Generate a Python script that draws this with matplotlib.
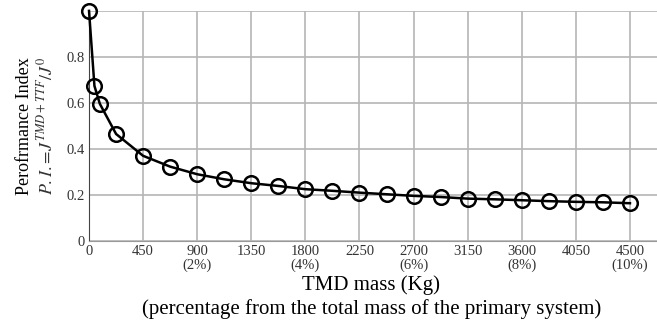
import matplotlib
matplotlib.use('Agg')
import matplotlib.pyplot as plt
import numpy as np

plt.rcParams['font.family'] = ['Liberation Serif', 'DejaVu Serif']
plt.rcParams['mathtext.fontset'] = 'stix'

# TMD mass (kg) and performance index
mass = [0, 45, 90, 225, 450, 675, 900, 1125, 1350, 1575, 1800, 2025, 2250,
        2475, 2700, 2925, 3150, 3375, 3600, 3825, 4050, 4275, 4500]
perf_index = [1.0, 0.674, 0.596, 0.465, 0.37, 0.323, 0.29, 0.268, 0.251, 0.239,
              0.225, 0.218, 0.21, 0.203, 0.196, 0.191, 0.184, 0.181, 0.177,
              0.173, 0.17, 0.168, 0.164]

xticks = [0, 450, 900, 1350, 1800, 2250, 2700, 3150, 3600, 4050, 4500]
xticklabels = ['0', '450', '900\n(2%)', '1350', '1800\n(4%)', '2250', '2700\n(6%)',
               '3150', '3600\n(8%)', '4050', '4500\n(10%)']
yticks = [0, 0.2, 0.4, 0.6, 0.8, 1.0]
yticklabels = ['0', '0.2', '0.4', '0.6', '0.8', '']

fig = plt.figure(figsize=(6.57, 3.2), dpi=100)
ax = fig.add_axes([0.1355, 0.247, 0.8645, 0.719])

ax.plot(mass, perf_index, '-o', color='black', lw=1.8, markersize=10.5,
        markerfacecolor='none', markeredgewidth=1.8, clip_on=False, zorder=3)

ax.set_xlim(0, 4725)
ax.set_ylim(0, 1.0)
ax.set_xticks(xticks)
ax.set_xticklabels(xticklabels, fontsize=10.5, color='#333333', linespacing=1.0)
ax.set_yticks(yticks)
ax.set_yticklabels(yticklabels, fontsize=10.5, color='#333333')
ax.tick_params(length=0, pad=3)
ax.grid(True, color='#b5b5b5', lw=1.2)
ax.set_axisbelow(True)
for s in ['top', 'right']:
    ax.spines[s].set_visible(False)
ax.spines['left'].set_color('#444444')
ax.spines['bottom'].set_color('#999999')

fig.text(0.565, 0.109, 'TMD mass (Kg)', ha='center', va='center', fontsize=15)
fig.text(0.565, 0.034, '(percentage from the total mass of the primary system)',
         ha='center', va='center', fontsize=15)
fig.text(0.037, 0.607, 'Perofrmance Index', rotation=90, ha='center', va='center',
         fontsize=13)
fig.text(0.07, 0.607, r'$\mathit{P.I.}\!=\!J^{TMD+TTF}/J^{0}$', rotation=90,
         ha='center', va='center', fontsize=13, color='#333333')

plt.savefig('out.png', dpi=100)
